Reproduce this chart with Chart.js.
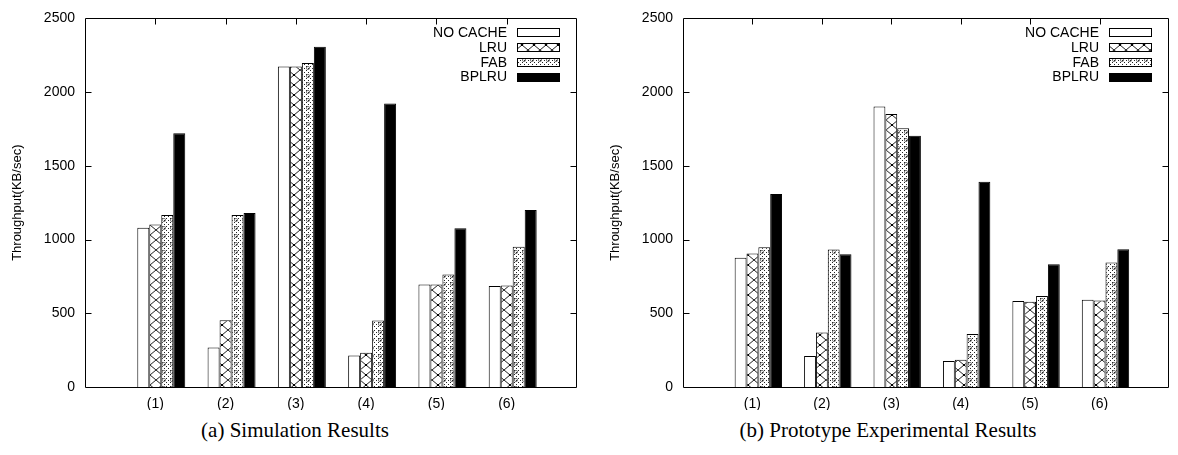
<!DOCTYPE html>
<html>
<head>
<meta charset="utf-8">
<script src="https://cdn.jsdelivr.net/npm/chart.js@4.4.0/dist/chart.umd.min.js"></script>
<style>
    body { margin: 0; background: #fff; width: 1178px; height: 455px; position: relative; overflow: hidden; }
    .panel { position: absolute; top: 0; }
    .caption { position: absolute; top: 418px; font-family: "Liberation Serif", "Times New Roman", serif; font-size: 21px; color: #000; text-align: center; }
</style>
</head>
<body>
<div class="panel" style="left:0;"><canvas id="simChart" width="590" height="410"></canvas></div>
<div class="panel" style="left:598px;"><canvas id="protoChart" width="580" height="410"></canvas></div>
<div class="caption" style="left:0; width:590px;">(a) Simulation Results</div>
<div class="caption" style="left:598px; width:580px;">(b) Prototype Experimental Results</div>

<script>
// --- Data ---
const categories = ['(1)', '(2)', '(3)', '(4)', '(5)', '(6)'];
const seriesNames = ['NO CACHE', 'LRU', 'FAB', 'BPLRU'];
const yTicks = [0, 500, 1000, 1500, 2000, 2500];

// (a) Simulation Results
const simNoCache = [1080, 268, 2174, 214, 696, 685];
const simLru     = [1102, 453, 2174, 232, 696, 688];
const simFab     = [1167, 1167, 2198, 451, 763, 951];
const simBplru   = [1721, 1180, 2308, 1922, 1076, 1200];

// (b) Prototype Experimental Results
const protoNoCache = [876, 210, 1902, 176, 584, 591];
const protoLru     = [905, 370, 1851, 185, 578, 587];
const protoFab     = [948, 932, 1755, 359, 618, 845];
const protoBplru   = [1309, 901, 1704, 1392, 832, 934];

document.addEventListener('DOMContentLoaded', () => {
    const FAMILY = '"Liberation Sans", Arial, sans-serif';
    const AXIS_FONT = { family: FAMILY, size: 14 };

    // --- Fill patterns (gnuplot-like) ---
    const makeTile = (w, h, draw) => {
        const c = document.createElement('canvas');
        c.width = w; c.height = h;
        const g = c.getContext('2d');
        g.fillStyle = '#fff';
        g.fillRect(0, 0, w, h);
        draw(g);
        return document.createElement('canvas').getContext('2d').createPattern(c, 'repeat');
    };

    const crossPattern = makeTile(12, 10, g => {
        g.strokeStyle = '#222';
        g.lineWidth = 1;
        g.beginPath();
        g.moveTo(0, 0); g.lineTo(12, 10);
        g.moveTo(12, 0); g.lineTo(0, 10);
        g.stroke();
        g.fillStyle = '#000';
        g.fillRect(5, 4, 2, 2);
    });

    const dotPattern = makeTile(8, 8, g => {
        g.fillStyle = '#222';
        [[0, 0], [4, 0], [2, 2], [6, 2], [0, 4], [4, 4], [2, 6], [6, 6]].forEach(([x, y]) => g.fillRect(x, y, 1, 1));
        g.strokeStyle = '#444';
        g.lineWidth = 0.7;
        g.beginPath();
        g.arc(4, 4, 1.6, 0, Math.PI * 2);
        g.stroke();
    });

    const fills = ['#ffffff', crossPattern, dotPattern, '#000000'];

    // --- Frame, inward ticks and in-plot legend ---
    const framePlugin = {
        id: 'frame',
        afterDatasetsDraw(chart) {
            const { ctx, chartArea: a, scales: { x, y } } = chart;
            const L = Math.round(a.left) + 0.5, R = Math.round(a.right) - 0.5;
            const T = Math.round(a.top) + 0.5, B = Math.round(a.bottom) + 0.5;
            ctx.save();
            ctx.strokeStyle = '#000';
            ctx.lineWidth = 1;
            ctx.beginPath();
            ctx.rect(L, T, R - L, B - T);
            yTicks.forEach(v => {
                const py = Math.round(y.getPixelForValue(v)) + 0.5;
                if (v === 0 || v === 2500) return;
                ctx.moveTo(L, py); ctx.lineTo(L + 6, py);
                ctx.moveTo(R, py); ctx.lineTo(R - 6, py);
            });
            categories.forEach((c, i) => {
                const px = Math.round(x.getPixelForValue(i + 1)) + 0.5;
                ctx.moveTo(px, T); ctx.lineTo(px, T + 6);
            });
            ctx.stroke();

            // legend: text right-aligned, sample box on the right
            ctx.font = '14px ' + FAMILY;
            ctx.textAlign = 'right';
            ctx.textBaseline = 'middle';
            const items = chart.data.datasets.filter(d => d.label);
            items.forEach((d, i) => {
                const cy = a.top + 14 + i * 14.7;
                ctx.fillStyle = '#000';
                ctx.fillText(d.label, a.right - 70, cy + 1);
                const bx = Math.round(a.right - 60) + 0.5, by = Math.round(cy - 4) + 0.5;
                ctx.fillStyle = d.backgroundColor;
                ctx.fillRect(bx, by, 42, 8);
                ctx.strokeRect(bx, by, 42, 8);
            });
            ctx.restore();
        }
    };

    // --- Chart builder ---
    const buildChart = (canvasId, series, rightPad) => {
        const pad = v => [null, ...v, null];
        const datasets = [{
            // empty gap slot, like gnuplot's cluster gap
            label: '',
            data: pad(categories.map(() => 0)),
            backgroundColor: 'rgba(0,0,0,0)',
            borderWidth: 0
        }];
        series.forEach((values, i) => {
            datasets.push({
                label: seriesNames[i],
                data: pad(values),
                backgroundColor: fills[i],
                borderColor: '#000',
                borderWidth: 1
            });
        });

        return new Chart(document.getElementById(canvasId), {
            type: 'bar',
            data: { labels: ['', ...categories, ''], datasets },
            options: {
                responsive: false,
                animation: false,
                devicePixelRatio: 1,
                layout: { padding: { top: 14, right: rightPad, left: 0, bottom: 0 } },
                datasets: { bar: { categoryPercentage: 0.853, barPercentage: 1.0 } },
                plugins: { legend: { display: false }, tooltip: { enabled: false } },
                scales: {
                    x: {
                        offset: false,
                        grid: { display: false, drawTicks: false },
                        border: { display: false },
                        ticks: { color: '#000', font: AXIS_FONT, padding: 9, autoSkip: false, maxRotation: 0 },
                        afterFit: s => { s.height = 23; }
                    },
                    y: {
                        min: 0,
                        max: 2500,
                        afterBuildTicks: s => { s.ticks = yTicks.map(v => ({ value: v })); },
                        grid: { display: false, drawTicks: false },
                        border: { display: false },
                        ticks: { color: '#000', font: AXIS_FONT, padding: 10, callback: v => String(v) },
                        title: {
                            display: true,
                            text: 'Throughput(KB/sec)',
                            color: '#000',
                            font: { family: FAMILY, size: 13 },
                            padding: { top: 10, bottom: 0 }
                        },
                        afterFit: s => { s.width = 85; }
                    }
                }
            },
            plugins: [framePlugin]
        });
    };

    buildChart('simChart', [simNoCache, simLru, simFab, simBplru], 13);
    buildChart('protoChart', [protoNoCache, protoLru, protoFab, protoBplru], 3);
});
</script>
</body>
</html>
